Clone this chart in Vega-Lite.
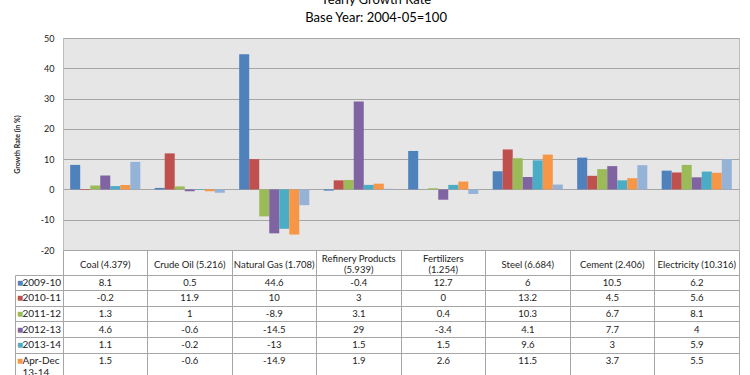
{
  "$schema": "https://vega.github.io/schema/vega-lite/v6.json",
  "padding": {"left": 12, "top": -7, "right": 5, "bottom": 0},
  "background": "white",
  "config": {
    "font": "Lato",
    "locale": {"number": {"decimal": ".", "thousands": ",", "grouping": [3], "currency": ["$", ""], "minus": "-"}}
  },
  "title": {
    "text": ["Yearly Growth Rate", "Base Year: 2004-05=100"],
    "fontSize": 13,
    "fontWeight": "normal",
    "lineHeight": 18,
    "anchor": "middle",
    "offset": 9,
    "color": "#000000"
  },
  "datasets": {
    "growth": [
      {"category": "Coal (4.379)", "series": "2009-10", "value": 8.1},
      {"category": "Coal (4.379)", "series": "2010-11", "value": -0.2},
      {"category": "Coal (4.379)", "series": "2011-12", "value": 1.3},
      {"category": "Coal (4.379)", "series": "2012-13", "value": 4.6},
      {"category": "Coal (4.379)", "series": "2013-14", "value": 1.1},
      {"category": "Coal (4.379)", "series": "Apr-Dec 13-14", "value": 1.5},
      {"category": "Coal (4.379)", "series": "Apr-Dec 12-13", "value": 9.1},
      {"category": "Crude Oil (5.216)", "series": "2009-10", "value": 0.5},
      {"category": "Crude Oil (5.216)", "series": "2010-11", "value": 11.9},
      {"category": "Crude Oil (5.216)", "series": "2011-12", "value": 1},
      {"category": "Crude Oil (5.216)", "series": "2012-13", "value": -0.6},
      {"category": "Crude Oil (5.216)", "series": "2013-14", "value": -0.2},
      {"category": "Crude Oil (5.216)", "series": "Apr-Dec 13-14", "value": -0.6},
      {"category": "Crude Oil (5.216)", "series": "Apr-Dec 12-13", "value": -1.1},
      {"category": "Natural Gas (1.708)", "series": "2009-10", "value": 44.6},
      {"category": "Natural Gas (1.708)", "series": "2010-11", "value": 10},
      {"category": "Natural Gas (1.708)", "series": "2011-12", "value": -8.9},
      {"category": "Natural Gas (1.708)", "series": "2012-13", "value": -14.5},
      {"category": "Natural Gas (1.708)", "series": "2013-14", "value": -13},
      {"category": "Natural Gas (1.708)", "series": "Apr-Dec 13-14", "value": -14.9},
      {"category": "Natural Gas (1.708)", "series": "Apr-Dec 12-13", "value": -5.2},
      {"category": "Refinery Products (5.939)", "series": "2009-10", "value": -0.4},
      {"category": "Refinery Products (5.939)", "series": "2010-11", "value": 3},
      {"category": "Refinery Products (5.939)", "series": "2011-12", "value": 3.1},
      {"category": "Refinery Products (5.939)", "series": "2012-13", "value": 29},
      {"category": "Refinery Products (5.939)", "series": "2013-14", "value": 1.5},
      {"category": "Refinery Products (5.939)", "series": "Apr-Dec 13-14", "value": 1.9},
      {"category": "Refinery Products (5.939)", "series": "Apr-Dec 12-13", "value": 0.2},
      {"category": "Fertilizers (1.254)", "series": "2009-10", "value": 12.7},
      {"category": "Fertilizers (1.254)", "series": "2010-11", "value": 0},
      {"category": "Fertilizers (1.254)", "series": "2011-12", "value": 0.4},
      {"category": "Fertilizers (1.254)", "series": "2012-13", "value": -3.4},
      {"category": "Fertilizers (1.254)", "series": "2013-14", "value": 1.5},
      {"category": "Fertilizers (1.254)", "series": "Apr-Dec 13-14", "value": 2.6},
      {"category": "Fertilizers (1.254)", "series": "Apr-Dec 12-13", "value": -1.5},
      {"category": "Steel (6.684)", "series": "2009-10", "value": 6},
      {"category": "Steel (6.684)", "series": "2010-11", "value": 13.2},
      {"category": "Steel (6.684)", "series": "2011-12", "value": 10.3},
      {"category": "Steel (6.684)", "series": "2012-13", "value": 4.1},
      {"category": "Steel (6.684)", "series": "2013-14", "value": 9.6},
      {"category": "Steel (6.684)", "series": "Apr-Dec 13-14", "value": 11.5},
      {"category": "Steel (6.684)", "series": "Apr-Dec 12-13", "value": 1.6},
      {"category": "Cement (2.406)", "series": "2009-10", "value": 10.5},
      {"category": "Cement (2.406)", "series": "2010-11", "value": 4.5},
      {"category": "Cement (2.406)", "series": "2011-12", "value": 6.7},
      {"category": "Cement (2.406)", "series": "2012-13", "value": 7.7},
      {"category": "Cement (2.406)", "series": "2013-14", "value": 3},
      {"category": "Cement (2.406)", "series": "Apr-Dec 13-14", "value": 3.7},
      {"category": "Cement (2.406)", "series": "Apr-Dec 12-13", "value": 8.0},
      {"category": "Electricity (10.316)", "series": "2009-10", "value": 6.2},
      {"category": "Electricity (10.316)", "series": "2010-11", "value": 5.6},
      {"category": "Electricity (10.316)", "series": "2011-12", "value": 8.1},
      {"category": "Electricity (10.316)", "series": "2012-13", "value": 4},
      {"category": "Electricity (10.316)", "series": "2013-14", "value": 5.9},
      {"category": "Electricity (10.316)", "series": "Apr-Dec 13-14", "value": 5.5},
      {"category": "Electricity (10.316)", "series": "Apr-Dec 12-13", "value": 10.0}
    ]
  },
  "data": {"name": "growth"},
  "bounds": "flush",
  "spacing": 25,
  "vconcat": [
    {
      "width": 676,
      "height": 212,
      "view": {"fill": "#e6e6e6", "stroke": "#bdbdbd"},
      "mark": {"type": "bar"},
      "encoding": {
        "x": {
          "field": "category", "type": "nominal",
          "sort": ["Coal (4.379)", "Crude Oil (5.216)", "Natural Gas (1.708)", "Refinery Products (5.939)", "Fertilizers (1.254)", "Steel (6.684)", "Cement (2.406)", "Electricity (10.316)"],
          "scale": {"type": "band", "paddingInner": 0.17, "paddingOuter": 0.085},
          "axis": {
            "title": null, "orient": "bottom", "ticks": false, "domain": false, "grid": false,
            "labelAngle": 0, "labelBaseline": "middle", "labelFontSize": 9.5,
            "labelColor": "#222222", "labelLineHeight": 11, "labelLimit": 0,
            "labelPadding": {
              "condition": {"test": "indexof(datum.value, 'Refinery') === 0 || indexof(datum.value, 'Fertilizers') === 0", "value": 8.3},
              "value": 14.3
            },
            "labelExpr": "(indexof(datum.label, 'Refinery') === 0 || indexof(datum.label, 'Fertilizers') === 0) ? [slice(datum.label, 0, lastindexof(datum.label, ' ')), slice(datum.label, lastindexof(datum.label, ' ') + 1)] : datum.label"
          }
        },
        "xOffset": {
          "field": "series", "type": "nominal",
          "sort": ["2009-10", "2010-11", "2011-12", "2012-13", "2013-14", "Apr-Dec 13-14", "Apr-Dec 12-13"],
          "scale": {"paddingInner": 0, "paddingOuter": 0}
        },
        "y": {
          "field": "value", "type": "quantitative",
          "scale": {"domain": [-20, 50], "nice": false},
          "axis": {
            "values": [-20, -10, 0, 10, 20, 30, 40, 50],
            "title": "Growth Rate (in %)", "titleFontSize": 7, "titleFontWeight": "bold", "titleColor": "#222222", "titlePadding": 20,
            "ticks": false, "domain": false, "labelPadding": 9, "labelFontSize": 9, "labelColor": "#222222",
            "gridColor": "#a6a6a6", "gridOpacity": 1, "gridWidth": 1
          }
        },
        "color": {
          "field": "series", "type": "nominal",
          "scale": {
            "domain": ["2009-10", "2010-11", "2011-12", "2012-13", "2013-14", "Apr-Dec 13-14", "Apr-Dec 12-13"],
            "range": ["#4F81BD", "#C0504D", "#9BBB59", "#8064A2", "#4BACC6", "#F79646", "#95B3D7"]
          },
          "legend": null
        }
      }
    },
    {
      "width": 676,
      "height": 101.4,
      "view": {"fill": "white", "stroke": null},
      "transform": [{"filter": "datum.series !== 'Apr-Dec 12-13'"}],
      "layer": [
        {
          "mark": {"type": "text", "fontSize": 9.5, "color": "#222222"},
          "encoding": {
            "x": {
              "field": "category", "type": "nominal",
              "sort": ["Coal (4.379)", "Crude Oil (5.216)", "Natural Gas (1.708)", "Refinery Products (5.939)", "Fertilizers (1.254)", "Steel (6.684)", "Cement (2.406)", "Electricity (10.316)"],
              "scale": {"type": "band", "padding": 0},
              "axis": {
                "orient": "top", "title": null, "labels": false, "bandPosition": 1, "tickExtra": true,
                "ticks": true, "tickSize": 25, "tickColor": "#a6a6a6", "grid": true, "gridColor": "#a6a6a6", "gridOpacity": 1,
                "domain": true, "domainColor": "#a6a6a6"
              }
            },
            "y": {
              "field": "series", "type": "nominal",
              "sort": ["2009-10", "2010-11", "2011-12", "2012-13", "2013-14", "Apr-Dec 13-14"],
              "scale": {"type": "band", "paddingInner": 0, "paddingOuter": 0.25, "align": 0},
              "axis": {
                "orient": "left", "title": null, "ticks": false, "domain": false, "grid": false,
                "labelAlign": "left", "labelBaseline": "middle", "labelPadding": 41, "labelFontSize": 10, "labelColor": "#222222", "labelLineHeight": 12,
                "labelExpr": "datum.value === 'Apr-Dec 13-14' ? ['Apr-Dec', '13-14'] : datum.value"
              }
            },
            "text": {"field": "value", "type": "quantitative"}
          }
        },
        {
          "mark": {"type": "text", "opacity": 0},
          "encoding": {
            "x": {"field": "category", "type": "nominal", "sort": ["Coal (4.379)", "Crude Oil (5.216)", "Natural Gas (1.708)", "Refinery Products (5.939)", "Fertilizers (1.254)", "Steel (6.684)", "Cement (2.406)", "Electricity (10.316)"]},
            "y": {
              "field": "series", "type": "nominal",
              "sort": ["2009-10", "2010-11", "2011-12", "2012-13", "2013-14", "Apr-Dec 13-14"],
              "axis": {
                "orient": "left", "title": null, "offset": 48, "ticks": false, "grid": false,
                "domain": true, "domainColor": "#a6a6a6",
                "labelAlign": "left", "labelBaseline": "middle", "labelPadding": -1.5, "labelFontSize": 10, "labelLineHeight": 12,
                "labelExpr": "datum.value === 'Apr-Dec 13-14' ? ['■', ' '] : '■'",
                "labelColor": {
                  "condition": [
                    {"test": "datum.value === '2009-10'", "value": "#4F81BD"},
                    {"test": "datum.value === '2010-11'", "value": "#C0504D"},
                    {"test": "datum.value === '2011-12'", "value": "#9BBB59"},
                    {"test": "datum.value === '2012-13'", "value": "#8064A2"},
                    {"test": "datum.value === '2013-14'", "value": "#4BACC6"}
                  ],
                  "value": "#F79646"
                }
              }
            },
            "text": {"field": "value", "type": "quantitative"}
          }
        },
        {
          "mark": {"type": "text", "opacity": 0},
          "encoding": {
            "x": {"field": "category", "type": "nominal", "sort": ["Coal (4.379)", "Crude Oil (5.216)", "Natural Gas (1.708)", "Refinery Products (5.939)", "Fertilizers (1.254)", "Steel (6.684)", "Cement (2.406)", "Electricity (10.316)"]},
            "y": {
              "field": "series", "type": "nominal",
              "sort": ["2009-10", "2010-11", "2011-12", "2012-13", "2013-14", "Apr-Dec 13-14"],
              "axis": {
                "orient": "left", "title": null, "labels": false, "domain": false,
                "bandPosition": 0, "ticks": true, "tickSize": 48, "tickColor": "#a6a6a6",
                "grid": true, "gridColor": "#a6a6a6", "gridOpacity": 1
              }
            },
            "text": {"field": "value", "type": "quantitative"}
          }
        }
      ],
      "resolve": {"axis": {"y": "independent"}}
    }
  ]
}
